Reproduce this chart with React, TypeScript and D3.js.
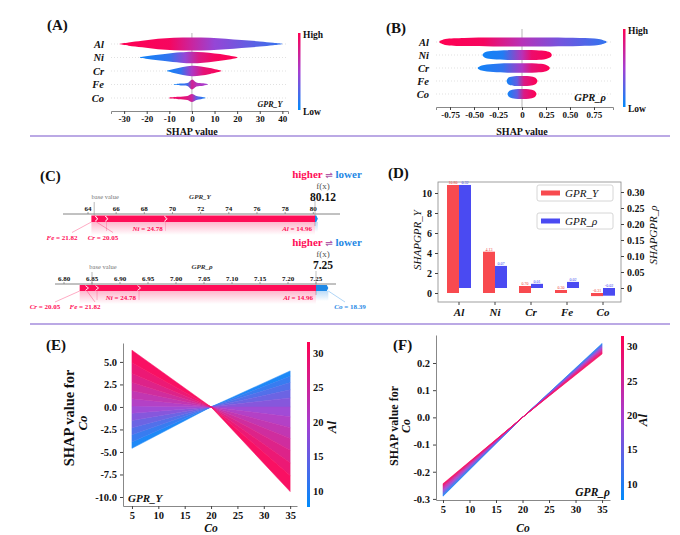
import * as d3 from 'd3';
import React, { useEffect, useRef } from 'react';

const SERIF = '"Liberation Serif", "Times New Roman", serif';
const LOW = '#008bfb';
const MID = '#a53ed2';
const HIGH = '#ff0052';
const PUSH_UP = '#ff0d57';
const PUSH_DOWN = '#1e88e5';
const RULE = '#a48ddc';

const features = ['Al', 'Ni', 'Cr', 'Fe', 'Co'];

// (A) GPR_Y beeswarm outline per feature: [SHAP value, relative density]
const swarmY = [
  [[-32, 0.05], [-28, 0.25], [-22, 0.5], [-15, 0.8], [-8, 0.95], [0, 1], [8, 0.95], [15, 0.8], [22, 0.6], [30, 0.4], [36, 0.2], [40, 0.05]],
  [[-23, 0.05], [-18, 0.3], [-12, 0.55], [-5, 0.8], [0, 0.9], [5, 0.8], [10, 0.6], [15, 0.4], [20, 0.08]],
  [[-11, 0.05], [-8, 0.3], [-4, 0.6], [0, 0.8], [4, 0.7], [8, 0.45], [13, 0.05]],
  [[-8, 0.05], [-5, 0.15], [-2, 0.22], [0, 0.75], [2, 0.3], [5, 0.18], [7, 0.05]],
  [[-10, 0.08], [-6, 0.18], [-2, 0.3], [0, 0.6], [2, 0.3], [4, 0.18], [6, 0.05]],
];
// feature value along each swarm: [SHAP value, 0 = low .. 1 = high]
const tintY = [
  [[-32, 1], [-10, 0.95], [0, 0.7], [10, 0.45], [25, 0.3], [40, 0.15]],
  [[-23, 0.05], [-10, 0.15], [-3, 0.45], [3, 0.8], [10, 0.95], [20, 1]],
  [[-11, 0.05], [-5, 0.15], [0, 0.55], [5, 0.85], [13, 1]],
  [[-8, 0.05], [-2, 0.2], [0, 0.75], [2, 0.6], [7, 0.5]],
  [[-10, 0.95], [-3, 0.85], [0, 0.7], [2, 0.3], [6, 0.05]],
];
const ticksY = [-30, -20, -10, 0, 10, 20, 30, 40];

// (B) GPR_rho beeswarm
const swarmRho = [
  [[-0.86, 0.12], [-0.8, 0.45], [-0.6, 0.62], [-0.3, 0.68], [0, 0.7], [0.3, 0.68], [0.6, 0.62], [0.8, 0.48], [0.88, 0.12]],
  [[-0.41, 0.1], [-0.38, 0.45], [-0.3, 0.65], [-0.15, 0.75], [0, 0.78], [0.15, 0.75], [0.25, 0.6], [0.3, 0.3], [0.31, 0.05]],
  [[-0.46, 0.1], [-0.42, 0.4], [-0.3, 0.62], [-0.15, 0.72], [0, 0.73], [0.15, 0.7], [0.24, 0.55], [0.28, 0.25], [0.29, 0.05]],
  [[-0.16, 0.1], [-0.14, 0.55], [-0.08, 0.75], [0, 0.78], [0.08, 0.74], [0.14, 0.5], [0.16, 0.1]],
  [[-0.15, 0.1], [-0.13, 0.5], [-0.07, 0.72], [0, 0.76], [0.07, 0.72], [0.13, 0.5], [0.15, 0.1]],
];
const tintRho = [
  [[-0.86, 1], [-0.4, 0.95], [0, 0.6], [0.4, 0.35], [0.88, 0.15]],
  [[-0.41, 0.05], [-0.2, 0.1], [0, 0.6], [0.1, 0.9], [0.31, 1]],
  [[-0.46, 0.05], [-0.2, 0.15], [0, 0.55], [0.1, 0.85], [0.29, 1]],
  [[-0.16, 0.05], [-0.05, 0.3], [0.02, 0.8], [0.16, 1]],
  [[-0.15, 0.05], [-0.05, 0.3], [0.02, 0.8], [0.15, 1]],
];
const ticksRho = [-0.75, -0.5, -0.25, 0, 0.25, 0.5, 0.75];

// (C) force plots: feature values and SHAP contributions (order of features)
const sampleValues = ['14.96', '24.78', '20.05', '21.82', '18.39'];
const forceY = [10.6, 4.2, 0.72, 0.36, -0.2];
const forceRho = [0.316, 0.075, 0.013, 0.018, -0.022];
const outputY = 80.12;
const outputRho = 7.25;
const forceTicksY = [64, 66, 68, 70, 72, 74, 76, 78, 80];
const forceTicksRho = [6.8, 6.85, 6.9, 6.95, 7.0, 7.05, 7.1, 7.15, 7.2, 7.25];

// (D) mean SHAP per feature
const meanY = [10.8, 4.13, 0.7, 0.3, -0.31];
const meanRho = [0.322, 0.069, 0.013, 0.019, -0.024];
const ticksMeanY = [0, 2, 4, 6, 8, 10];
const ticksMeanRho = [0, 0.05, 0.1, 0.15, 0.2, 0.25, 0.3];

// (E)(F) dependence of SHAP(Co) on Co, coloured by Al
const coSpan = [5, 35];
const coPivot = 20;
const alLevels = [8, 10, 12, 14, 16, 18, 20, 22, 24, 26, 28, 30, 31.5];
const alRange = [7.7, 31.6];
const depYAt5 = [-4.6, -3.9, -3.1, -2.3, -1.5, -0.7, 0.1, 0.9, 1.8, 2.7, 3.7, 4.9, 6.3];
const depYAt35 = [4.0, 3.4, 2.7, 1.9, 1.0, 0.0, -1.1, -2.3, -3.5, -4.8, -6.2, -7.6, -9.4];
const depRhoAt5 = [-0.29, -0.286, -0.282, -0.278, -0.274, -0.27, -0.266, -0.262, -0.258, -0.254, -0.25, -0.247, -0.244];
const depRhoAt35 = [0.272, 0.269, 0.266, 0.263, 0.26, 0.257, 0.254, 0.251, 0.248, 0.245, 0.241, 0.237, 0.233];
const coTicks = [5, 10, 15, 20, 25, 30, 35];
const depTicksY = [5, 2.5, 0, -2.5, -5, -7.5, -10];
const depTicksRho = [0.2, 0.1, 0, -0.1, -0.2, -0.3];
const alTicks = [10, 15, 20, 25, 30];

const App: React.FC = () => {
  const svgRef = useRef<SVGSVGElement>(null);

  useEffect(() => {
    if (!svgRef.current) return;
    const svg = d3.select(svgRef.current);
    svg.selectAll('*').remove();
    svg.attr('font-family', SERIF);
    const defs = svg.append('defs');

    const tint = d3.scaleLinear<string>().domain([0, 0.5, 1]).range([LOW, MID, HIGH]).interpolate(d3.interpolateRgb);

    const styleAxis = (g: any, size: number) => {
      g.attr('font-family', SERIF).attr('font-size', size).attr('font-weight', 'bold');
      g.selectAll('text').attr('fill', '#111');
      g.selectAll('.tick line').attr('stroke', '#444');
      g.select('.domain').attr('stroke', '#888');
    };

    const text = (x: number, y: number, s: string, size: number, opts: any = {}) =>
      svg.append('text').attr('x', x).attr('y', y).attr('font-size', size)
        .attr('font-weight', opts.weight ?? 'bold').attr('font-style', opts.style ?? 'normal')
        .attr('text-anchor', opts.anchor ?? 'start').attr('fill', opts.fill ?? '#111')
        .attr('transform', opts.rotate ? `rotate(-90,${x},${y})` : null).text(s);

    const colorbar = (id: string, x: number, y0: number, y1: number, w: number) => {
      const g = defs.append('linearGradient').attr('id', id).attr('x1', 0).attr('x2', 0).attr('y1', 1).attr('y2', 0);
      [0, 0.25, 0.5, 0.75, 1].forEach(t => g.append('stop').attr('offset', t).attr('stop-color', tint(t)));
      svg.append('rect').attr('x', x).attr('y', y0).attr('width', w).attr('height', y1 - y0).attr('fill', `url(#${id})`);
    };

    // dividers
    [136, 324].forEach(y => svg.append('line').attr('x1', 30).attr('x2', 670).attr('y1', y).attr('y2', y)
      .attr('stroke', RULE).attr('stroke-width', 1.6));

    // ---------- (A) / (B) beeswarms ----------
    const thick = d3.scaleLinear().domain([0, 1]).range([0, 6.5]);
    const drawSwarm = (key: string, x: any, rows: any, shapes: number[][][], tints: number[][][], ticks: number[],
      fmt: (d: number) => string, axisY: number, top: number) => {
      const [x0, x1] = x.range();
      features.forEach(f => svg.append('line').attr('x1', x0).attr('x2', x1).attr('y1', rows(f)).attr('y2', rows(f))
        .attr('stroke', '#ccc').attr('stroke-width', 0.6).attr('stroke-dasharray', '1,2'));
      svg.append('line').attr('x1', x(0)).attr('x2', x(0)).attr('y1', top).attr('y2', axisY)
        .attr('stroke', '#999').attr('stroke-width', 0.7);
      features.forEach((f, i) => {
        const stops = tints[i];
        const gx1 = x(stops[0][0]);
        const gx2 = x(stops[stops.length - 1][0]);
        const grad = defs.append('linearGradient').attr('id', `${key}-${f}`).attr('gradientUnits', 'userSpaceOnUse')
          .attr('x1', gx1).attr('x2', gx2).attr('y1', 0).attr('y2', 0);
        stops.forEach(([v, t]) => grad.append('stop').attr('offset', (x(v) - gx1) / (gx2 - gx1)).attr('stop-color', tint(t)));
        const cy = rows(f);
        const area = d3.area<number[]>().x(d => x(d[0])).y0(d => cy - thick(d[1])).y1(d => cy + thick(d[1]))
          .curve(d3.curveCatmullRom.alpha(0.5));
        svg.append('path').attr('d', area(shapes[i])).attr('fill', `url(#${key}-${f})`);
        text(x0 - 7, cy + 3.5, f, 10.5, { style: 'italic', anchor: 'end' });
      });
      const g = svg.append('g').attr('transform', `translate(0,${axisY})`)
        .call(d3.axisBottom(x).tickValues(ticks).tickFormat(fmt).tickSizeOuter(0).tickSize(3).tickPadding(2));
      styleAxis(g, 9);
    };

    const xA = d3.scaleLinear().domain([-35.8, 42.5]).range([111, 288]);
    const rowsA = d3.scalePoint().domain(features).range([44, 98]);
    drawSwarm('swA', xA, rowsA, swarmY, tintY, ticksY, d => String(d), 111, 33);
    text(192, 135, 'SHAP value', 10, { anchor: 'middle' });
    colorbar('cbA', 298, 33, 110, 2.5);
    text(303, 38, 'High', 9.5);
    text(303, 115, 'Low', 9.5);
    text(270, 107, 'GPR_Y', 8, { style: 'italic', anchor: 'middle' });
    text(47, 30, '(A)', 15);

    const xB = d3.scaleLinear().domain([-0.896, 0.948]).range([436, 613]);
    const rowsB = d3.scalePoint().domain(features).range([42, 94]);
    drawSwarm('swB', xB, rowsB, swarmRho, tintRho, ticksRho, d => (d === 0 ? '0' : d.toFixed(2)), 107, 29);
    text(522, 135, 'SHAP value', 10, { anchor: 'middle' });
    colorbar('cbB', 623, 29, 107, 2.5);
    text(628, 34, 'High', 9.5);
    text(628, 112, 'Low', 9.5);
    text(590, 101, 'GPR_\u03c1', 10.5, { style: 'italic', anchor: 'middle' });
    text(386, 33, '(B)', 15);

    // ---------- (C) force plots ----------
    const fadeRed = defs.append('linearGradient').attr('id', 'fadeRed').attr('x1', 0).attr('x2', 0).attr('y1', 0).attr('y2', 1);
    fadeRed.append('stop').attr('offset', 0).attr('stop-color', PUSH_UP).attr('stop-opacity', 0.3);
    fadeRed.append('stop').attr('offset', 1).attr('stop-color', PUSH_UP).attr('stop-opacity', 0);
    const fadeBlue = defs.append('linearGradient').attr('id', 'fadeBlue').attr('x1', 0).attr('x2', 0).attr('y1', 0).attr('y2', 1);
    fadeBlue.append('stop').attr('offset', 0).attr('stop-color', PUSH_DOWN).attr('stop-opacity', 0.3);
    fadeBlue.append('stop').attr('offset', 1).attr('stop-color', PUSH_DOWN).attr('stop-opacity', 0);

    const drawForce = (o: any) => {
      const { x, contrib, fx, ticks, fmt, axisY, axisX, barY, barH, headY, tag, tagX, callouts } = o;
      const all = features.map((f, i) => ({ f, v: contrib[i], val: sampleValues[i] }));
      const pos = all.filter(d => d.v > 0).sort((a, b) => a.v - b.v);
      const neg = all.filter(d => d.v < 0).sort((a, b) => a.v - b.v);
      const redStart = fx - d3.sum(pos, d => d.v);
      const blueEnd = fx - d3.sum(neg, d => d.v);
      const baseValue = fx - d3.sum(pos, d => d.v) - d3.sum(neg, d => d.v);
      const barBottom = barY + barH;

      // header
      const h = svg.append('text').attr('x', 327).attr('y', headY).attr('font-size', 11).attr('font-weight', 'bold')
        .attr('text-anchor', 'middle');
      h.append('tspan').attr('fill', PUSH_UP).text('higher ');
      h.append('tspan').attr('fill', '#b05aa8').attr('font-family', '"DejaVu Sans", sans-serif').attr('font-size', 9).text('\u21cc');
      h.append('tspan').attr('fill', PUSH_DOWN).text(' lower');
      text(323, headY + 10.5, 'f(x)', 9, { weight: 'normal', anchor: 'middle', fill: '#555' });
      text(323, headY + 23, fmt(fx, true), 11.5, { anchor: 'middle' });

      // axis
      svg.append('line').attr('x1', axisX[0]).attr('x2', axisX[1]).attr('y1', axisY).attr('y2', axisY).attr('stroke', '#666').attr('stroke-width', 0.8);
      ticks.forEach((t: number) => {
        svg.append('line').attr('x1', x(t)).attr('x2', x(t)).attr('y1', axisY - 2).attr('y2', axisY).attr('stroke', '#666').attr('stroke-width', 0.6);
        text(x(t), axisY - 3.5, fmt(t, false), 7, { anchor: 'middle' });
      });
      svg.append('line').attr('x1', x(baseValue)).attr('x2', x(baseValue)).attr('y1', axisY - 12).attr('y2', barY)
        .attr('stroke', '#888').attr('stroke-width', 0.6);
      text(x(baseValue) + 11, axisY - 15, 'base value', 6.5, { weight: 'normal', anchor: 'middle', fill: '#777' });
      text(tagX, axisY - 15, tag, 7, { style: 'italic', anchor: 'middle', fill: '#333' });
      svg.append('line').attr('x1', x(fx)).attr('x2', x(fx)).attr('y1', axisY - 13).attr('y2', barBottom + 4)
        .attr('stroke', '#999').attr('stroke-width', 0.6);

      // shading under the bar
      svg.append('rect').attr('x', x(redStart)).attr('y', barBottom).attr('width', x(fx) - x(redStart)).attr('height', 13).attr('fill', 'url(#fadeRed)');
      svg.append('rect').attr('x', x(fx)).attr('y', barBottom).attr('width', x(blueEnd) - x(fx)).attr('height', 10).attr('fill', 'url(#fadeBlue)');

      const label = (lx: number, ly: number, d: any, anchor: string, fill: string) => {
        const t = svg.append('text').attr('x', lx).attr('y', ly).attr('font-size', 7).attr('font-weight', 'bold')
          .attr('text-anchor', anchor).attr('fill', fill);
        t.append('tspan').attr('font-style', 'italic').text(d.f);
        t.append('tspan').text(` = ${d.val}`);
      };

      let cur = redStart;
      pos.forEach((d, i) => {
        const a = x(cur);
        const b = x(cur + d.v);
        svg.append('rect').attr('x', a).attr('y', barY).attr('width', b - a).attr('height', barH).attr('fill', PUSH_UP);
        if (i > 0) {
          svg.append('path').attr('d', `M${a - 1.5},${barY + 0.6}L${a + 1.5},${barY + barH / 2}L${a - 1.5},${barBottom - 0.6}`)
            .attr('fill', 'none').attr('stroke', '#fff').attr('stroke-width', 0.9);
        }
        if (callouts[d.f]) {
          const [lx, ly] = callouts[d.f];
          svg.append('path').attr('d', `M${a},${barBottom}L${lx + 10},${ly - 7}`).attr('stroke', PUSH_UP).attr('stroke-width', 0.5).attr('opacity', 0.7).attr('fill', 'none');
          label(lx, ly, d, 'middle', PUSH_UP);
        } else {
          svg.append('line').attr('x1', a).attr('x2', a).attr('y1', barBottom).attr('y2', barBottom + 9).attr('stroke', PUSH_UP).attr('stroke-width', 0.4).attr('opacity', 0.6);
          label(b - 3, barBottom + 8.5, d, 'end', PUSH_UP);
        }
        cur += d.v;
      });
      cur = fx;
      neg.forEach(d => {
        const a = x(cur);
        const b = x(cur - d.v);
        svg.append('path').attr('d', `M${a},${barY}H${b - 1.5}L${b},${barY + barH / 2}L${b - 1.5},${barBottom}H${a}Z`).attr('fill', PUSH_DOWN);
        if (callouts[d.f]) {
          const [lx, ly] = callouts[d.f];
          svg.append('path').attr('d', `M${b},${barBottom}L${lx - 5},${ly - 7}`).attr('stroke', PUSH_DOWN).attr('stroke-width', 0.5).attr('opacity', 0.7).attr('fill', 'none');
          label(lx, ly, d, 'middle', PUSH_DOWN);
        }
        cur -= d.v;
      });
    };

    drawForce({
      x: d3.scaleLinear().domain([64, outputY]).range([88, 315]),
      contrib: forceY, fx: outputY, ticks: forceTicksY,
      fmt: (d: number, big: boolean) => (big ? d.toFixed(2) : String(d)),
      axisY: 214, axisX: [63, 340], barY: 215.5, barH: 6.5, headY: 178,
      tag: 'GPR_Y', tagX: 200, callouts: { Fe: [62, 239.5], Cr: [103, 239.5] },
    });
    drawForce({
      x: d3.scaleLinear().domain([6.8, outputRho]).range([64, 316]),
      contrib: forceRho, fx: outputRho, ticks: forceTicksRho,
      fmt: (d: number) => d.toFixed(2),
      axisY: 284, axisX: [55, 336], barY: 285, barH: 6, headY: 246,
      tag: 'GPR_\u03c1', tagX: 202, callouts: { Cr: [45, 309], Fe: [85, 309], Co: [350, 309] },
    });
    text(40, 181, '(C)', 15);

    // ---------- (D) mean SHAP bars ----------
    const xD = d3.scaleBand().domain(features).range([441, 621]);
    const yL = d3.scaleLinear().domain([0, 10]).range([293, 193]);
    const yR = d3.scaleLinear().domain([0, 0.3]).range([288, 192]);
    const bw = 12;
    svg.append('rect').attr('x', 438).attr('y', 182).attr('width', 183).attr('height', 120)
      .attr('fill', 'none').attr('stroke', '#888').attr('stroke-width', 0.8);
    features.forEach((f, i) => {
      const c = xD(f)! + xD.bandwidth() / 2;
      const vy = meanY[i];
      const vr = meanRho[i];
      svg.append('rect').attr('x', c - bw).attr('y', yL(Math.max(0, vy))).attr('width', bw)
        .attr('height', Math.abs(yL(vy) - yL(0))).attr('fill', '#f84a4f');
      svg.append('rect').attr('x', c).attr('y', yR(Math.max(0, vr))).attr('width', bw)
        .attr('height', Math.abs(yR(vr) - yR(0))).attr('fill', '#4a4af2');
      text(c - bw / 2, yL(Math.max(0, vy)) - 1, vy.toFixed(2), 4, { weight: 'normal', anchor: 'middle', fill: '#e33' });
      text(c + bw / 2, yR(Math.max(0, vr)) - 1, vr.toFixed(2), 4, { weight: 'normal', anchor: 'middle', fill: '#33e' });
    });
    const gl = svg.append('g').attr('transform', 'translate(438,0)')
      .call(d3.axisLeft(yL).tickValues(ticksMeanY).tickFormat(d => String(d)).tickSize(3).tickSizeOuter(0));
    styleAxis(gl, 10);
    gl.select('.domain').remove();
    const gr = svg.append('g').attr('transform', 'translate(621,0)')
      .call(d3.axisRight(yR).tickValues(ticksMeanRho).tickFormat(d => (d === 0 ? '0' : (+d).toFixed(2))).tickSize(3).tickSizeOuter(0));
    styleAxis(gr, 10);
    gr.select('.domain').remove();
    const gb = svg.append('g').attr('transform', 'translate(0,302)')
      .call(d3.axisBottom(xD).tickSize(3).tickSizeOuter(0).tickPadding(3));
    styleAxis(gb, 11);
    gb.attr('font-style', 'italic');
    gb.select('.domain').remove();
    text(421, 240, 'SHAPGPR_Y', 11, { weight: 'normal', style: 'italic', anchor: 'middle', rotate: true });
    text(657, 235, 'SHAPGPR_\u03c1', 11, { weight: 'normal', style: 'italic', anchor: 'middle', rotate: true });
    [[185, '#f84a4f', 'GPR_Y'], [213, '#4a4af2', 'GPR_\u03c1']].forEach(([y, c, s]: any) => {
      svg.append('rect').attr('x', 537).attr('y', y).attr('width', 76).attr('height', 16).attr('rx', 2)
        .attr('fill', '#fff').attr('stroke', '#ccc').attr('stroke-width', 0.8);
      svg.append('rect').attr('x', 541).attr('y', y + 5.5).attr('width', 19).attr('height', 5).attr('fill', c);
      text(565, y + 12, s, 11, { weight: 'normal', style: 'italic' });
    });
    text(388, 178, '(D)', 15);

    // ---------- (E) / (F) dependence plots ----------
    const alT = d3.scaleLinear().domain(alRange).range([0, 1]);
    const drawDependence = (x: any, y: any, at5: number[], at35: number[], yTicks: number[], cbX: number, cbY: [number, number], key: string) => {
      const g = svg.append('g').attr('opacity', 0.95);
      for (let i = 0; i < alLevels.length - 1; i++) {
        const c = tint(alT((alLevels[i] + alLevels[i + 1]) / 2));
        const left = [[coSpan[0], at5[i]], [coSpan[0], at5[i + 1]], [coPivot, 0]];
        const right = [[coPivot, 0], [coSpan[1], at35[i]], [coSpan[1], at35[i + 1]]];
        [left, right].forEach(poly => g.append('path')
          .attr('d', d3.line()(poly.map(p => [x(p[0]), y(p[1])]) as any) + 'Z')
          .attr('fill', c).attr('stroke', c).attr('stroke-width', 0.5));
      }
      const [bx0] = x.range();
      const [by0] = y.range();
      const gL = svg.append('g').attr('transform', `translate(${bx0},0)`)
        .call(d3.axisLeft(y).tickValues(yTicks).tickFormat((d: any) => (+d).toFixed(1)).tickSize(3).tickSizeOuter(0));
      styleAxis(gL, 10.5);
      const gB = svg.append('g').attr('transform', `translate(0,${by0})`)
        .call(d3.axisBottom(x).tickValues(coTicks).tickFormat((d: any) => String(d)).tickSize(3).tickSizeOuter(0));
      styleAxis(gB, 10.5);
      colorbar(key, cbX, cbY[0], cbY[1], 3);
      const yc = d3.scaleLinear().domain(alRange).range([cbY[1], cbY[0]]);
      alTicks.forEach(t => text(cbX + 6, yc(t) + 3.5, String(t), 10.5));
    };

    const xE = d3.scaleLinear().domain([3.3, 36.3]).range([123, 297]);
    const yE = d3.scaleLinear().domain([-11, 7.1]).range([506, 343]);
    drawDependence(xE, yE, depYAt5, depYAt35, depTicksY, 307, [342, 507], 'cbE');
    text(74, 418, 'SHAP value for', 14.5, { anchor: 'middle', rotate: true });
    text(87, 423, 'Co', 13, { style: 'italic', anchor: 'middle', rotate: true });
    text(211, 531.5, 'Co', 11.5, { style: 'italic', anchor: 'middle' });
    text(336, 427, 'Al', 13, { style: 'italic', anchor: 'middle', rotate: true });
    text(128, 502, 'GPR_Y', 11, { style: 'italic' });
    text(46, 350, '(E)', 15);

    const xF = d3.scaleLinear().domain([3.68, 36.5]).range([436, 610]);
    const yF = d3.scaleLinear().domain([-0.304, 0.303]).range([500, 335]);
    drawDependence(xF, yF, depRhoAt5, depRhoAt35, depTicksRho, 621, [336, 500], 'cbF');
    text(398, 426, 'SHAP value for', 12, { anchor: 'middle', rotate: true });
    text(410, 426, 'Co', 12, { style: 'italic', anchor: 'middle', rotate: true });
    text(523, 531.5, 'Co', 11.5, { style: 'italic', anchor: 'middle' });
    text(647, 420, 'Al', 13, { style: 'italic', anchor: 'middle', rotate: true });
    text(610, 496, 'GPR_\u03c1', 11.5, { style: 'italic', anchor: 'end' });
    text(393, 350, '(F)', 15);
  }, []);

  return (
    <svg ref={svgRef} width={680} height={535}
      style={{ position: 'absolute', left: 0, top: 0, background: '#fff' }} />
  );
};

export default App;
